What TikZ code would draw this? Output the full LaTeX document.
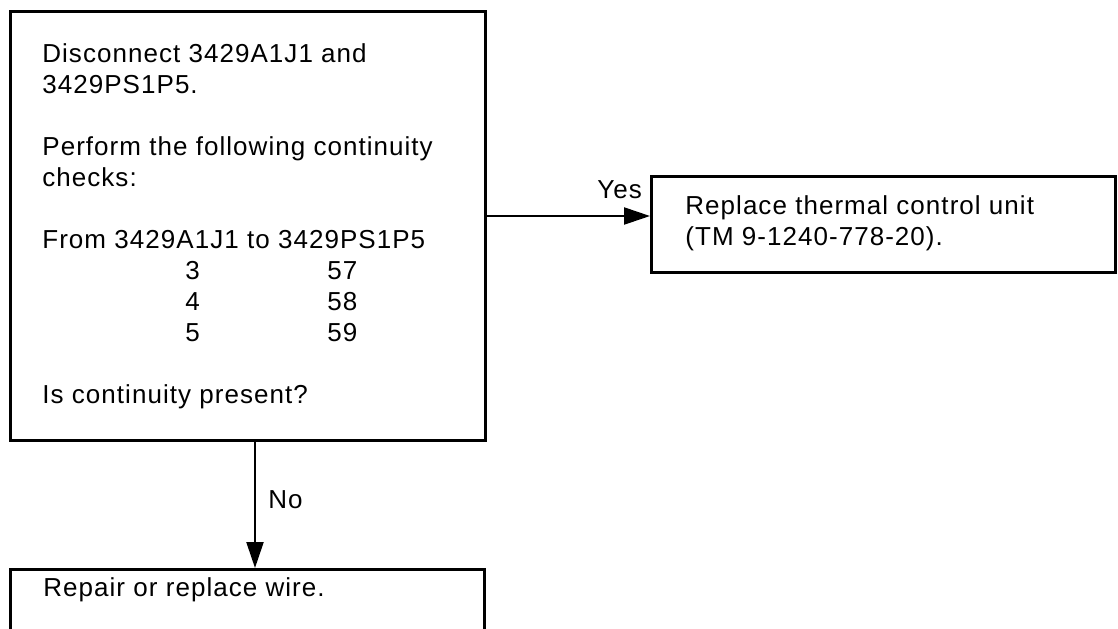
\documentclass[tikz,border=0pt]{standalone}
\usepackage{fontspec}
\setmainfont{Liberation Sans}[LetterSpace=4]
\usetikzlibrary{arrows.meta}
\begin{document}
\begin{tikzpicture}[x=0.5pt,y=-0.5pt,
  box/.style={draw, line width=1.3pt, inner sep=0pt, anchor=north west},
  txt/.style={anchor=base west, inner sep=0pt, font=\fontsize{13pt}{15pt}\selectfont},
  arr/.style={line width=1.1pt, -{Triangle[length=13pt,width=8.5pt]}}]
\useasboundingbox (0,0) rectangle (1118,628);
\clip (0,0) rectangle (1118,628);
% boxes
\node[box, minimum width=237.5pt, minimum height=214.5pt] (main) at (9,10) {};
\node[box, minimum width=232pt, minimum height=48pt] (repl) at (650,175) {};
\node[box, minimum width=237pt, minimum height=50pt] (wire) at (9,568) {};
% main text
\node[txt] (t1) at (42,62) {Disconnect 3429A1J1 and};
\node[txt] (t2) at (42,93) {3429PS1P5.};
\node[txt] (t3) at (42,155) {Perform the following continuity};
\node[txt] (t4) at (42,186) {checks:};
\node[txt] (t5) at (42,248) {From 3429A1J1 to 3429PS1P5};
\node[txt] (a3) at (185,279) {3};
\node[txt] (b3) at (327,279) {57};
\node[txt] (a4) at (185,310) {4};
\node[txt] (b4) at (327,310) {58};
\node[txt] (a5) at (185,341) {5};
\node[txt] (b5) at (327,341) {59};
\node[txt] (t6) at (42,403) {Is continuity present?};
% right text
\node[txt] (r1) at (685,214) {Replace thermal control unit};
\node[txt] (r2) at (685,245) {(TM 9-1240-778-20).};
% bottom text
\node[txt] (w1) at (43,596) {Repair or replace wire.};
% connectors
\coordinate (ya) at (0,216);
\coordinate (nx) at (255,0);
\draw[arr] (main.east |- ya) -- (repl.west |- ya);
\draw[arr] (main.south -| nx) -- (wire.north -| nx);
\node[txt] (yes) at (597,198) {Yes};
\node[txt] (no) at (268,508) {No};
\end{tikzpicture}
\end{document}
